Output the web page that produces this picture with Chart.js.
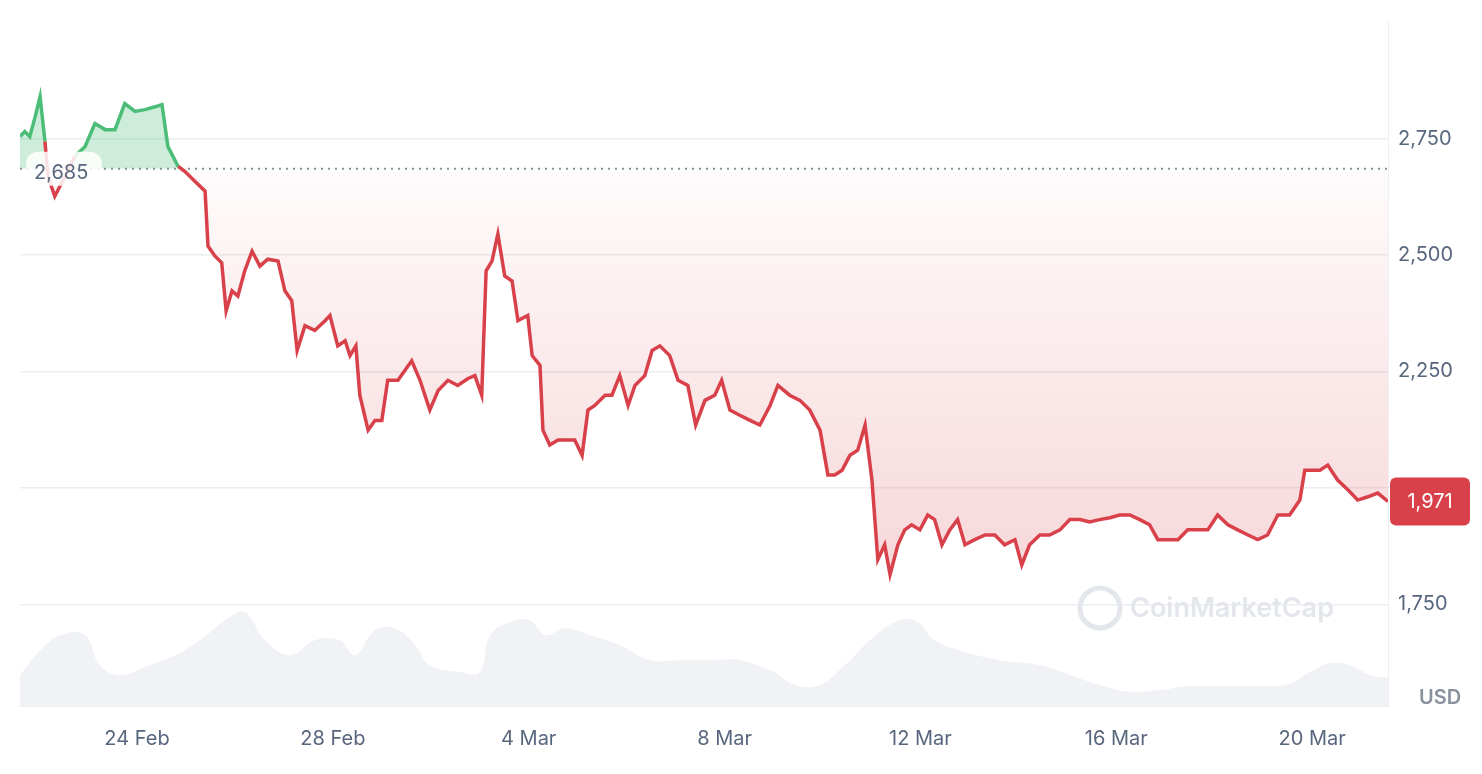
<!DOCTYPE html>
<html>
<head>
<meta charset="utf-8">
<script src="https://cdn.jsdelivr.net/npm/chart.js@4.4.1/dist/chart.umd.min.js"></script>
<style>
  body { margin: 0; background: #fff; }
  #wrap { width: 1482px; height: 774px; position: relative; }
</style>
</head>
<body>
<div id="wrap"><canvas id="priceChart"></canvas></div>
<script>
// days since 21 Feb 00:00
const priceDays = [0.61,0.71,0.81,0.92,1.02,1.12,1.18,1.32,1.53,1.73,1.94,2.14,2.35,2.55,2.75,2.96,3.16,3.37,3.51,3.63,3.84,3.98,4.18,4.39,4.45,4.59,4.73,4.82,4.94,5.06,5.20,5.35,5.51,5.67,5.88,6.02,6.16,6.27,6.43,6.63,6.84,6.94,7.10,7.25,7.35,7.47,7.55,7.72,7.86,8.00,8.12,8.33,8.47,8.61,8.78,8.98,9.15,9.35,9.55,9.76,9.90,10.04,10.13,10.25,10.37,10.51,10.66,10.78,10.98,11.07,11.23,11.29,11.43,11.60,11.74,11.94,12.09,12.21,12.35,12.56,12.70,12.86,13.03,13.17,13.37,13.52,13.68,13.88,14.05,14.25,14.41,14.60,14.80,14.94,15.11,15.31,15.52,15.72,15.93,16.09,16.33,16.54,16.74,16.95,17.11,17.25,17.40,17.56,17.72,17.87,18.01,18.13,18.27,18.38,18.54,18.68,18.82,18.99,19.15,19.29,19.44,19.60,19.76,19.91,20.11,20.32,20.52,20.72,20.93,21.07,21.23,21.44,21.64,21.85,22.05,22.26,22.46,22.66,22.87,23.07,23.28,23.48,23.68,23.85,24.05,24.26,24.46,24.67,24.87,25.07,25.28,25.48,25.69,25.89,26.09,26.30,26.54,26.75,26.85,26.99,27.16,27.32,27.52,27.73,27.93,28.14,28.34,28.55];
const prices = [2754,2765,2754,2797,2840,2744,2669,2626,2669,2712,2733,2782,2769,2769,2825,2808,2812,2818,2823,2733,2690,2679,2658,2637,2519,2498,2483,2380,2423,2412,2466,2508,2476,2491,2487,2423,2402,2295,2348,2338,2359,2370,2305,2316,2284,2305,2199,2124,2145,2145,2231,2231,2252,2273,2231,2167,2209,2231,2220,2235,2241,2199,2466,2487,2545,2455,2444,2359,2370,2284,2263,2124,2092,2103,2103,2103,2070,2167,2177,2199,2199,2241,2177,2220,2241,2295,2305,2284,2231,2220,2135,2188,2199,2231,2167,2156,2145,2135,2177,2220,2199,2188,2167,2124,2028,2028,2038,2070,2081,2135,2017,1846,1878,1814,1878,1910,1921,1910,1942,1932,1878,1910,1932,1878,1889,1899,1899,1878,1889,1835,1878,1899,1899,1910,1932,1932,1927,1932,1936,1942,1942,1932,1921,1889,1889,1889,1910,1910,1910,1942,1921,1910,1899,1889,1899,1942,1942,1974,2038,2038,2038,2049,2017,1996,1974,1981,1989,1971];
const volumeDays = [0.61,1.02,1.43,1.94,2.24,2.65,3.26,3.78,4.29,4.80,5.20,5.61,6.12,6.63,7.14,7.45,7.86,8.27,8.68,8.98,9.59,10.00,10.21,10.62,11.02,11.33,11.74,12.25,12.86,13.48,14.09,14.70,15.31,15.93,16.44,16.95,17.46,17.97,18.48,18.89,19.29,19.80,20.62,21.44,22.05,22.66,23.28,23.89,24.50,25.11,25.93,26.54,26.95,27.36,27.77,28.18,28.55];
const volumes = [31,56,71,71,41,31,41,51,66,86,94,66,51,66,66,51,76,78,61,41,34,34,71,84,86,71,78,71,61,46,46,46,46,36,21,21,41,66,84,86,66,56,46,41,31,21,14,16,20,20,20,22,34,43,41,31,28];
const tickDays = [3,7,11,15,19,23,27];
const tickLabels = ['24 Feb','28 Feb','4 Mar','8 Mar','12 Mar','16 Mar','20 Mar'];
const yTicks = [1750,2000,2250,2500,2750];
const openPrice = 2685;
const lastPrice = 1971;

const GREEN = '#4cbd79', RED = '#d9414a';
const ctx = document.getElementById('priceChart').getContext('2d');
const redFill = ctx.createLinearGradient(0, 168, 0, 600);
redFill.addColorStop(0, 'rgba(217,65,74,0.02)');
redFill.addColorStop(1, 'rgba(217,65,74,0.22)');

const overlay = {
  id: 'overlay',
  beforeDatasetsDraw(chart) {
    const c = chart.ctx, a = chart.chartArea, y = chart.scales.y;
    const yy = y.getPixelForValue(openPrice);
    c.save();
    c.setLineDash([2, 5]);
    c.strokeStyle = '#8a8f99';
    c.lineWidth = 2;
    c.beginPath(); c.moveTo(a.left, yy); c.lineTo(a.right, yy); c.stroke();
    c.restore();
    // watermark
    c.save();
    c.strokeStyle = '#e3e6ea'; c.lineWidth = 5;
    c.beginPath(); c.arc(1100, 608, 20, 0, Math.PI * 2); c.stroke();
    c.fillStyle = '#e3e6ea';
    c.font = '600 27px Inter, sans-serif';
    c.textBaseline = 'middle';
    c.fillText('CoinMarketCap', 1130, 609);
    c.restore();
  },
  afterDraw(chart) {
    const c = chart.ctx, a = chart.chartArea, y = chart.scales.y;
    c.save();
    // open price label
    const yy = y.getPixelForValue(openPrice);
    c.fillStyle = 'rgba(255,255,255,0.85)';
    c.beginPath(); c.roundRect(26, yy - 17, 76, 34, 12); c.fill();
    c.fillStyle = '#58667e';
    c.font = '20px Inter, sans-serif';
    c.textBaseline = 'middle';
    c.textAlign = 'left';
    c.fillText('2,685', 34, yy + 4);
    // last price badge
    const ly = y.getPixelForValue(lastPrice);
    c.fillStyle = RED;
    c.beginPath(); c.roundRect(a.right + 2, ly - 24, 80, 48, 6); c.fill();
    c.fillStyle = '#fff';
    c.textAlign = 'center';
    c.fillText('1,971', a.right + 42, ly + 1);
    // USD
    c.fillStyle = '#8a919e';
    c.font = '600 20px Inter, sans-serif';
    c.fillText('USD', 1440, 698);
    c.restore();
  }
};

new Chart(ctx, {
  data: {
    datasets: [{
      type: 'line',
      data: priceDays.map((d, i) => ({ x: d, y: prices[i] })),
      borderWidth: 3.5,
      pointRadius: 0,
      tension: 0,
      yAxisID: 'y',
      borderColor: RED,
      segment: {
        borderColor: s => (s.p0.parsed.y >= openPrice && s.p1.parsed.y >= openPrice) ? GREEN : RED
      },
      fill: { target: { value: openPrice }, above: 'rgba(76,189,121,0.28)', below: redFill },
      order: 1
    }, {
      type: 'line',
      data: volumeDays.map((d, i) => ({ x: d, y: volumes[i] })),
      borderWidth: 0,
      pointRadius: 0,
      tension: 0.4,
      yAxisID: 'vol',
      backgroundColor: '#f1f2f5',
      fill: 'origin',
      order: 2
    }]
  },
  options: {
    responsive: true,
    maintainAspectRatio: false,
    animation: false,
    layout: { padding: { left: 20, top: 20 } },
    plugins: { legend: { display: false }, tooltip: { enabled: false } },
    scales: {
      x: {
        type: 'linear',
        min: 0.61, max: 28.55,
        afterBuildTicks: s => { s.ticks = tickDays.map(v => ({ value: v })); },
        afterFit: s => { s.height = 68; },
        ticks: {
          callback: v => tickLabels[tickDays.indexOf(v)],
          color: '#58667e', font: { size: 20, family: 'Inter' }, padding: 13, maxRotation: 0
        },
        grid: { display: false },
        border: { color: '#eceef1' }
      },
      y: {
        position: 'right',
        min: 1532, max: 3000,
        afterBuildTicks: s => { s.ticks = yTicks.map(v => ({ value: v })); },
        afterFit: s => { s.width = 94; },
        ticks: {
          callback: v => v === 2000 ? '' : v.toLocaleString('en-US'),
          color: '#58667e', font: { size: 20, family: 'Inter' }, padding: 10
        },
        grid: { color: '#eceef1', lineWidth: 1.5, drawTicks: false },
        border: { display: true, color: '#eceef1' }
      },
      vol: {
        display: false,
        min: 0, max: 686
      }
    }
  },
  plugins: [overlay]
});
</script>
</body>
</html>
